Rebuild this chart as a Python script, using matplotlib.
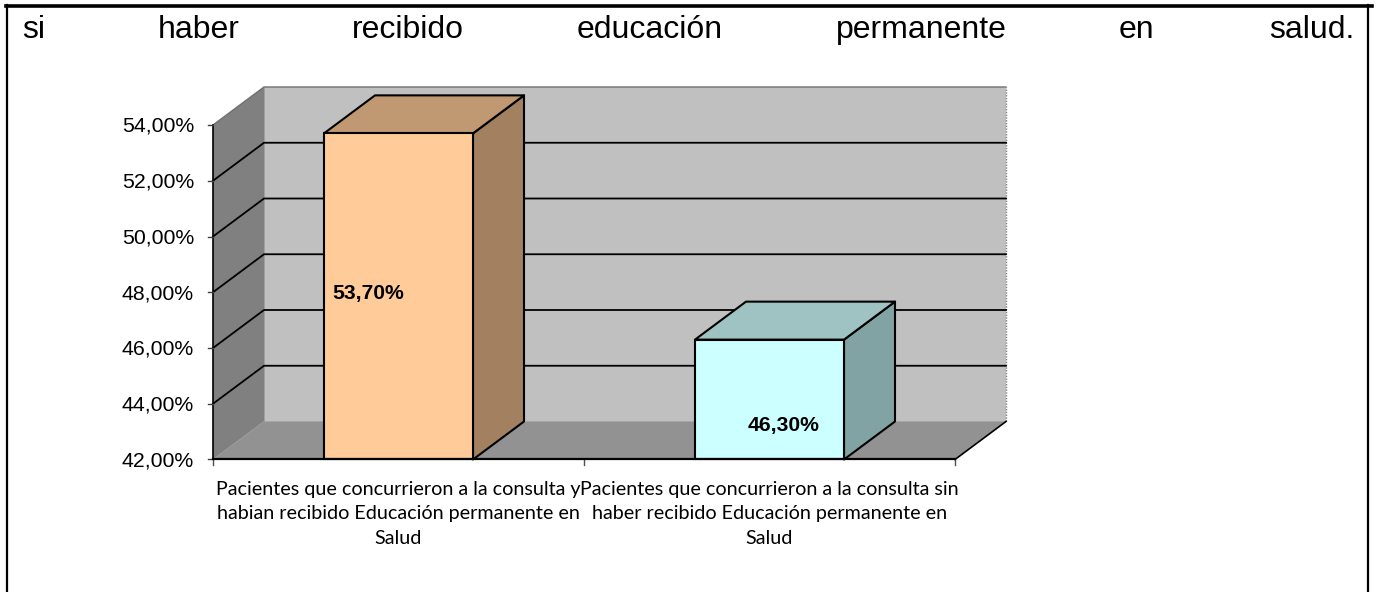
import matplotlib
matplotlib.use("Agg")
import matplotlib.pyplot as plt
from matplotlib.patches import Polygon

categories = [
    "Pacientes que concurrieron a la consulta y\nhabian recibido Educación permanente en\nSalud",
    "Pacientes que concurrieron a la consulta sin\nhaber recibido Educación permanente en\nSalud",
]
values = [53.70, 46.30]
value_labels = ["53,70%", "46,30%"]
y_ticks = [42, 44, 46, 48, 50, 52, 54]
y_tick_labels = ["42,00%", "44,00%", "46,00%", "48,00%", "50,00%", "52,00%", "54,00%"]
header_words = ["si", "haber", "recibido", "educación", "permanente", "en", "salud."]
header_x = [22, 158, 352, 577, 836, 1119, 1269]

front_colors = ["#FFCC99", "#CCFFFF"]
top_colors = ["#C09872", "#9FC3C3"]
side_colors = ["#A3805F", "#82A3A3"]

W, H = 1378, 592
fig = plt.figure(figsize=(W / 100, H / 100), dpi=100, facecolor="white")
ax = fig.add_axes([0, 0, 1, 1])
ax.axis("off")

# axes limits chosen so that the category/value scale lands on the chart frame
px_x = 371.0
px_y = 334.5 / 12
x0_px, y0_px = 213.0, 459.5
ax.set_xlim(-x0_px / px_x, (W - x0_px) / px_x)
ax.set_ylim(42 - (H - y0_px) / px_y, 42 + y0_px / px_y)
dx = 51.0 / px_x
dy = 38.0 / px_y
half = 74.5 / px_x
ymin, ymax = y_ticks[0], y_ticks[-1]
xmax = len(categories)

# walls
ax.add_patch(Polygon([(dx, ymin + dy), (xmax + dx, ymin + dy), (xmax + dx, ymax + dy), (dx, ymax + dy)],
                     fc="#C0C0C0", ec="none", zorder=1))
ax.add_patch(Polygon([(0, ymin), (dx, ymin + dy), (dx, ymax + dy), (0, ymax)],
                     fc="#808080", ec="none", zorder=1))
ax.add_patch(Polygon([(0, ymin), (xmax, ymin), (xmax + dx, ymin + dy), (dx, ymin + dy)],
                     fc="#929292", ec="none", zorder=1))
ax.plot([xmax + dx, xmax + dx], [ymin + dy, ymax + dy], color="#808080", lw=1.0, ls=(0, (1, 1)), zorder=1.5)
ax.plot([dx, dx], [ymin + dy, ymax + dy], color="#9a9a9a", lw=0.6, zorder=1.5)
ax.plot([dx, xmax + dx], [ymin + dy, ymin + dy], color="#a0a0a0", lw=0.6, zorder=1.5)
ax.plot([0, dx], [ymin, ymin + dy], color="#9a9a9a", lw=0.6, zorder=1.5)
ax.plot([xmax, xmax + dx], [ymin, ymin + dy], color="black", lw=1.2, zorder=1.5)

# gridlines
for t in y_ticks[1:-1]:
    ax.plot([0, dx, xmax + dx], [t, t + dy, t + dy], color="black", lw=1.3, zorder=2)
ax.plot([0, dx, xmax + dx], [ymax, ymax + dy, ymax + dy], color="#707070", lw=1.0, zorder=2)

# axis lines and ticks
tx = 5.0 / px_x
ty = 5.0 / px_y
ax.plot([0, 0], [ymin, ymax], color="black", lw=1.2, zorder=3)
ax.plot([0, xmax], [ymin, ymin], color="black", lw=1.6, zorder=5)
for t, lab in zip(y_ticks, y_tick_labels):
    ax.plot([-tx, 0], [t, t], color="#404040", lw=1.0, zorder=3)
    ax.text(-19 / px_x, t - 1.5 / px_y, lab, ha="right", va="center", fontsize=15.3,
            family="Liberation Sans", color="black")
for i in range(xmax + 1):
    ax.plot([i, i], [ymin, ymin - ty], color="#505050", lw=1.0, zorder=3)

# bars
for i, v in enumerate(values):
    c = i + 0.5
    l, r = c - half, c + half
    kw = dict(ec="black", lw=1.5, joinstyle="round", zorder=4)
    ax.add_patch(Polygon([(r, ymin), (r + dx, ymin + dy), (r + dx, v + dy), (r, v)], fc=side_colors[i], **kw))
    ax.add_patch(Polygon([(l, v), (r, v), (r + dx, v + dy), (l + dx, v + dy)], fc=top_colors[i], **kw))
    ax.bar(c, v - ymin, bottom=ymin, width=2 * half, color=front_colors[i], edgecolor="black", linewidth=1.5, zorder=4.5)

# data labels
label_x = [0.5 - 30 / px_x, 1.5 + 14 / px_x]
label_y = [47.97, 43.23]
for x, y, s in zip(label_x, label_y, value_labels):
    ax.text(x, y, s, ha="center", va="center", fontsize=15.2, fontweight="bold",
            family="Liberation Sans", color="black", zorder=6)

# category labels
for i, s in enumerate(categories):
    ax.text(i + 0.5, 42 - 21.5 / px_y, s, ha="center", va="top", fontsize=14.24,
            family="Lato", color="black", linespacing=1.52, zorder=6)

# page text and frame, positioned as fractions of the figure
for s, x in zip(header_words, header_x):
    fig.text(x / W, 1 - 38 / H, s, ha="left", va="baseline", fontsize=23,
             family="Liberation Sans", color="black")
fig.add_artist(plt.Line2D([6 / W, 1372 / W], [1 - 5.5 / H] * 2, color="black", lw=2.6))
fig.add_artist(plt.Line2D([7 / W, 7 / W], [0, 1 - 5 / H], color="black", lw=1.6))
fig.add_artist(plt.Line2D([1367.5 / W, 1367.5 / W], [0, 1 - 5 / H], color="black", lw=1.6))

fig.savefig("out.png", dpi=100, facecolor="white")
